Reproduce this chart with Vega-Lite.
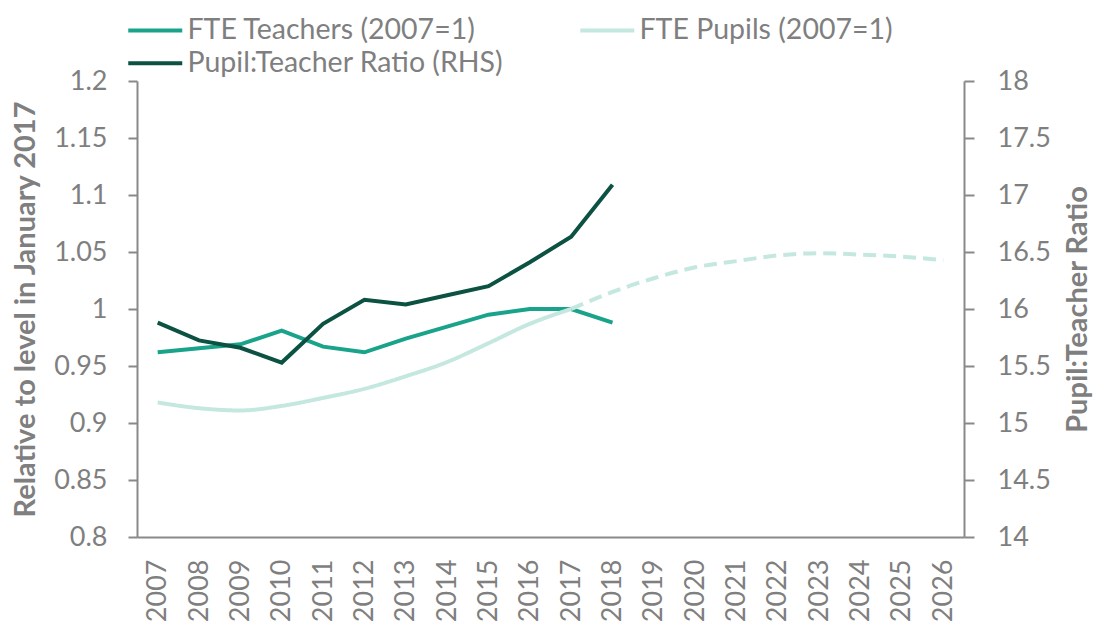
{
  "$schema": "https://vega.github.io/schema/vega-lite/v6.json",
  "width": 827,
  "height": 456,
  "autosize": "none",
  "padding": {"left": 137, "top": 81, "right": 133, "bottom": 86},
  "background": "white",
  "config": {
    "font": "Lato",
    "view": {"stroke": null},
    "axis": {
      "labelFontSize": 27,
      "labelColor": "#7f7f7f",
      "labelFont": "Lato",
      "domainColor": "#898989",
      "domainWidth": 2,
      "tickColor": "#898989",
      "tickWidth": 2,
      "grid": false,
      "titleColor": "#7f7f7f",
      "titleFont": "Lato",
      "titleFontSize": 29,
      "titleFontWeight": "bold"
    }
  },
  "data": {
    "values": [
      {"year": "2007", "series": "FTE Teachers (2007=1)", "seg": "a", "value": 0.962},
      {"year": "2008", "series": "FTE Teachers (2007=1)", "seg": "a", "value": 0.9655},
      {"year": "2009", "series": "FTE Teachers (2007=1)", "seg": "a", "value": 0.969},
      {"year": "2010", "series": "FTE Teachers (2007=1)", "seg": "a", "value": 0.981},
      {"year": "2011", "series": "FTE Teachers (2007=1)", "seg": "a", "value": 0.967},
      {"year": "2012", "series": "FTE Teachers (2007=1)", "seg": "a", "value": 0.962},
      {"year": "2013", "series": "FTE Teachers (2007=1)", "seg": "a", "value": 0.974},
      {"year": "2014", "series": "FTE Teachers (2007=1)", "seg": "a", "value": 0.9845},
      {"year": "2015", "series": "FTE Teachers (2007=1)", "seg": "a", "value": 0.995},
      {"year": "2016", "series": "FTE Teachers (2007=1)", "seg": "a", "value": 1.0},
      {"year": "2017", "series": "FTE Teachers (2007=1)", "seg": "a", "value": 1.0},
      {"year": "2018", "series": "FTE Teachers (2007=1)", "seg": "a", "value": 0.988},
      {"year": "2007", "series": "FTE Pupils (2007=1)", "seg": "a", "value": 0.918},
      {"year": "2008", "series": "FTE Pupils (2007=1)", "seg": "a", "value": 0.913},
      {"year": "2009", "series": "FTE Pupils (2007=1)", "seg": "a", "value": 0.911},
      {"year": "2010", "series": "FTE Pupils (2007=1)", "seg": "a", "value": 0.915},
      {"year": "2011", "series": "FTE Pupils (2007=1)", "seg": "a", "value": 0.922},
      {"year": "2012", "series": "FTE Pupils (2007=1)", "seg": "a", "value": 0.930},
      {"year": "2013", "series": "FTE Pupils (2007=1)", "seg": "a", "value": 0.941},
      {"year": "2014", "series": "FTE Pupils (2007=1)", "seg": "a", "value": 0.9535},
      {"year": "2015", "series": "FTE Pupils (2007=1)", "seg": "a", "value": 0.970},
      {"year": "2016", "series": "FTE Pupils (2007=1)", "seg": "a", "value": 0.987},
      {"year": "2017", "series": "FTE Pupils (2007=1)", "seg": "a", "value": 1.0},
      {"year": "2017", "series": "FTE Pupils (2007=1)", "seg": "p", "value": 1.0},
      {"year": "2018", "series": "FTE Pupils (2007=1)", "seg": "p", "value": 1.015},
      {"year": "2019", "series": "FTE Pupils (2007=1)", "seg": "p", "value": 1.027},
      {"year": "2020", "series": "FTE Pupils (2007=1)", "seg": "p", "value": 1.0366},
      {"year": "2021", "series": "FTE Pupils (2007=1)", "seg": "p", "value": 1.042},
      {"year": "2022", "series": "FTE Pupils (2007=1)", "seg": "p", "value": 1.047},
      {"year": "2023", "series": "FTE Pupils (2007=1)", "seg": "p", "value": 1.049},
      {"year": "2024", "series": "FTE Pupils (2007=1)", "seg": "p", "value": 1.0477},
      {"year": "2025", "series": "FTE Pupils (2007=1)", "seg": "p", "value": 1.046},
      {"year": "2026", "series": "FTE Pupils (2007=1)", "seg": "p", "value": 1.0427},
      {"year": "2007", "series": "Pupil:Teacher Ratio (RHS)", "seg": "a", "value": 15.88},
      {"year": "2008", "series": "Pupil:Teacher Ratio (RHS)", "seg": "a", "value": 15.725},
      {"year": "2009", "series": "Pupil:Teacher Ratio (RHS)", "seg": "a", "value": 15.66},
      {"year": "2010", "series": "Pupil:Teacher Ratio (RHS)", "seg": "a", "value": 15.53},
      {"year": "2011", "series": "Pupil:Teacher Ratio (RHS)", "seg": "a", "value": 15.87},
      {"year": "2012", "series": "Pupil:Teacher Ratio (RHS)", "seg": "a", "value": 16.08},
      {"year": "2013", "series": "Pupil:Teacher Ratio (RHS)", "seg": "a", "value": 16.04},
      {"year": "2014", "series": "Pupil:Teacher Ratio (RHS)", "seg": "a", "value": 16.12},
      {"year": "2015", "series": "Pupil:Teacher Ratio (RHS)", "seg": "a", "value": 16.20},
      {"year": "2016", "series": "Pupil:Teacher Ratio (RHS)", "seg": "a", "value": 16.41},
      {"year": "2017", "series": "Pupil:Teacher Ratio (RHS)", "seg": "a", "value": 16.634},
      {"year": "2018", "series": "Pupil:Teacher Ratio (RHS)", "seg": "a", "value": 17.09}
    ]
  },
  "encoding": {
    "x": {
      "field": "year",
      "type": "ordinal",
      "scale": {"type": "point", "padding": 0.5, "domain": ["2007","2008","2009","2010","2011","2012","2013","2014","2015","2016","2017","2018","2019","2020","2021","2022","2023","2024","2025","2026"]},
      "axis": {"title": null, "labelAngle": -90, "labelPadding": 22, "ticks": false}
    },
    "color": {
      "field": "series",
      "type": "nominal",
      "scale": {
        "domain": ["FTE Teachers (2007=1)", "FTE Pupils (2007=1)", "Pupil:Teacher Ratio (RHS)"],
        "range": ["#1aa38b", "#c4e8e0", "#0c5243"]
      },
      "legend": {
        "title": null,
        "orient": "none",
        "legendX": 4,
        "legendY": -65,
        "columns": 2,
        "direction": "horizontal",
        "symbolType": "M-2.7,0H2.7",
        "symbolSize": 400,
        "symbolStrokeWidth": 4,
        "labelFontSize": 28.5,
        "labelFont": "Lato",
        "labelColor": "#7f7f7f",
        "labelOffset": 18,
        "labelLimit": 0,
        "rowPadding": 4,
        "columnPadding": 68
      }
    }
  },
  "layer": [
    {
      "layer": [
        {
          "transform": [{"filter": "datum.series == 'FTE Teachers (2007=1)'"}],
          "mark": {"type": "line", "strokeWidth": 4},
          "encoding": {
            "y": {
              "field": "value",
              "type": "quantitative",
              "scale": {"domain": [0.8, 1.2], "nice": false, "zero": false},
              "axis": {
                "title": "Relative to level in January 2017",
                "values": [0.8, 0.85, 0.9, 0.95, 1.0, 1.05, 1.1, 1.15, 1.2],
                "format": "~g",
                "tickSize": 9,
                "labelPadding": 21,
                "titlePadding": 13
              }
            }
          }
        },
        {
          "transform": [{"filter": "datum.series == 'FTE Pupils (2007=1)'"}],
          "mark": {"type": "line", "strokeWidth": 4, "interpolate": "monotone"},
          "encoding": {
            "y": {"field": "value", "type": "quantitative"},
            "detail": {"field": "seg"},
            "strokeDash": {
              "field": "seg",
              "type": "nominal",
              "scale": {"domain": ["a", "p"], "range": [[1, 0], [13, 7]]},
              "legend": null
            }
          }
        }
      ]
    },
    {
      "transform": [{"filter": "datum.series == 'Pupil:Teacher Ratio (RHS)'"}],
      "mark": {"type": "line", "strokeWidth": 4},
      "encoding": {
        "y": {
          "field": "value",
          "type": "quantitative",
          "scale": {"domain": [14, 18], "nice": false, "zero": false},
          "axis": {
            "orient": "right",
            "title": "Pupil:Teacher Ratio",
            "values": [14, 14.5, 15, 15.5, 16, 16.5, 17, 17.5, 18],
            "format": "~g",
            "tickSize": 10,
            "labelPadding": 23,
            "titlePadding": 13,
            "titleAngle": 270,
            "titleBaseline": "top"
          }
        }
      }
    }
  ],
  "resolve": {"scale": {"y": "independent"}}
}
